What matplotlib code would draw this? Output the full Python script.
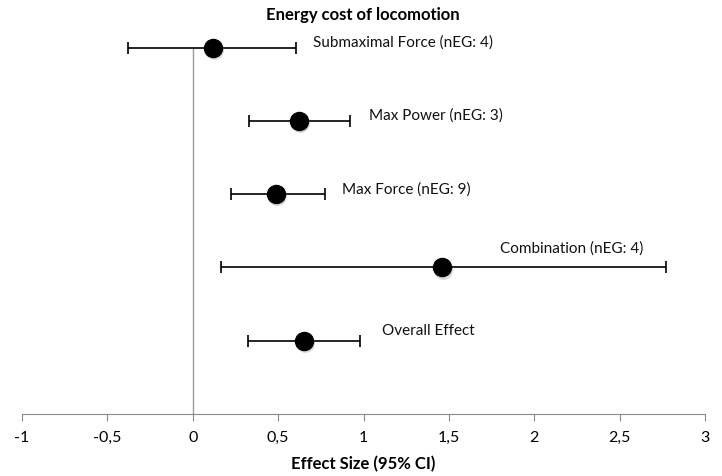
import numpy as np
import matplotlib
matplotlib.use('Agg')
import matplotlib.pyplot as plt
import matplotlib.transforms as mtransforms

# forest plot data
labels = ['Submaximal Force (nEG: 4)', 'Max Power (nEG: 3)', 'Max Force (nEG: 9)',
          'Combination (nEG: 4)', 'Overall Effect']
effect = [0.119, 0.623, 0.486, 1.457, 0.650]
ci_low = [-0.380, 0.332, 0.224, 0.165, 0.324]
ci_high = [0.607, 0.920, 0.772, 2.769, 0.980]
rows = [5, 4, 3, 2, 1]

xticks = [-1, -0.5, 0, 0.5, 1, 1.5, 2, 2.5, 3]
xticklabels = ['-1', '-0,5', '0', '0,5', '1', '1,5', '2', '2,5', '3']

# label offsets from each point, in points (layout only)
label_offsets = [(72, 3.4), (50, 4.1), (48, 3.6), (42, 13.5), (56.5, 7.2)]

plt.rcParams['font.family'] = ['Lato', 'DejaVu Sans']

fig = plt.figure(figsize=(7.22, 4.76), dpi=100)
ax = fig.add_axes([0.0305, 0.1303, 0.946, 0.7695])

effect = np.array(effect)
err = np.array([effect - np.array(ci_low), np.array(ci_high) - effect])

# zero line
ax.plot([0, 0], [0, 5], color='#9a9a9a', lw=1.0, zorder=1)

eb = ax.errorbar(effect, rows, xerr=err, fmt='none', ecolor='black', elinewidth=1.2,
                 capsize=4, capthick=1.2, zorder=2)
for art in eb.lines[1] + eb.lines[2]:
    art.set_clip_on(False)

# soft shadow under the markers
shadow = mtransforms.offset_copy(ax.transData, fig=fig, x=0.8, y=-1.5, units='points')
ax.plot(effect, rows, 'o', ms=13.5, color='#909090', alpha=0.35, mec='none',
        transform=shadow, zorder=3, clip_on=False)
ax.plot(effect, rows, 'o', ms=13, color='black', mec='black', zorder=4, clip_on=False)

for lab, x, y, off in zip(labels, effect, rows, label_offsets):
    ax.annotate(lab, (x, y), xytext=off, textcoords='offset points',
                ha='left', va='center', fontsize=11, color='#111111')

ax.set_xlim(-1, 3)
ax.set_ylim(0, 5)
ax.set_xticks(xticks)
ax.set_xticklabels(xticklabels, fontsize=11.5)
ax.set_yticks([])
for s in ['top', 'right', 'left']:
    ax.spines[s].set_visible(False)
ax.spines['bottom'].set_color('#8a8a8a')
ax.tick_params(axis='x', direction='out', length=5, color='#8a8a8a', pad=7)

fig.text(0.503, 0.968, 'Energy cost of locomotion', ha='center', va='center',
         fontsize=12, fontweight='bold')
fig.text(0.503, 0.024, 'Effect Size (95% CI)', ha='center', va='center',
         fontsize=12, fontweight='bold')

fig.savefig('out.png', dpi=100)
